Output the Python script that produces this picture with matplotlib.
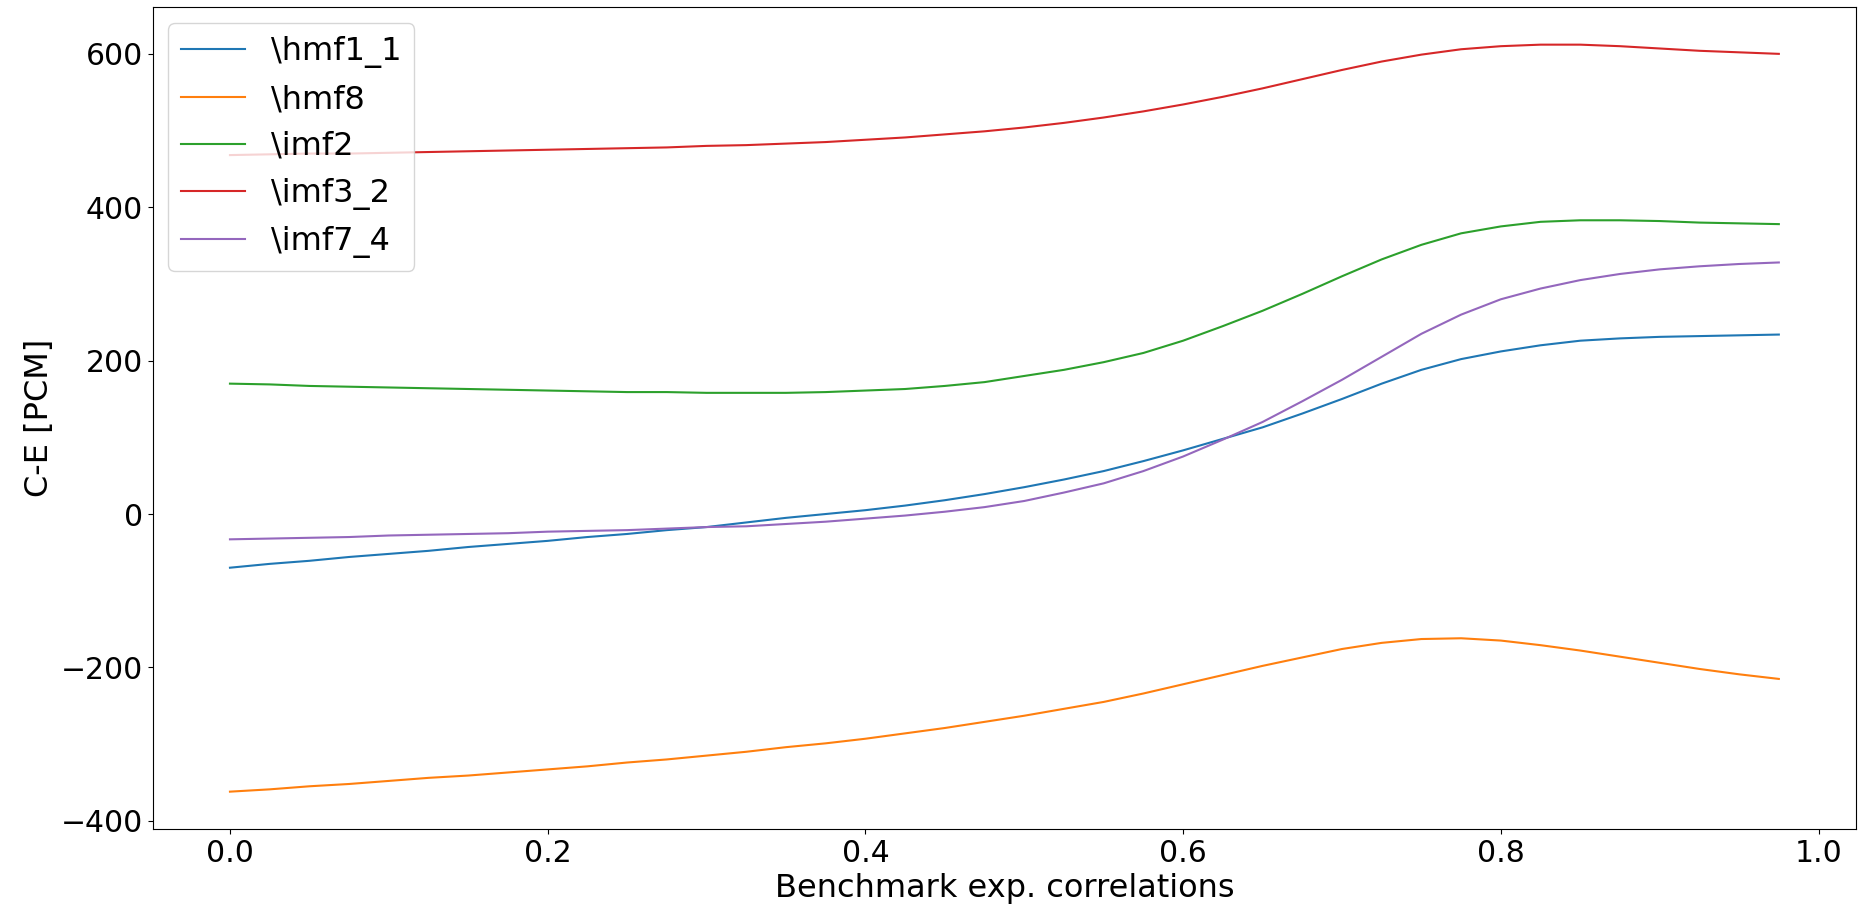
import numpy as np
import matplotlib
matplotlib.use("Agg")
import matplotlib.pyplot as plt

# correlation values used in the benchmark sweep
corr = np.arange(40) * 0.025

hmf1_1 = [-70, -65, -61, -56, -52, -48, -43, -39, -35, -30,
          -26, -21, -17, -11, -5, 0, 5, 11, 18, 26,
          35, 45, 56, 69, 83, 98, 113, 131, 150, 170,
          188, 202, 212, 220, 226, 229, 231, 232, 233, 234]
hmf8 = [-362, -359, -355, -352, -348, -344, -341, -337, -333, -329,
        -324, -320, -315, -310, -304, -299, -293, -286, -279, -271,
        -263, -254, -245, -234, -222, -210, -198, -187, -176, -168,
        -163, -162, -165, -171, -178, -186, -194, -202, -209, -215]
imf2 = [170, 169, 167, 166, 165, 164, 163, 162, 161, 160,
        159, 159, 158, 158, 158, 159, 161, 163, 167, 172,
        180, 188, 198, 210, 226, 245, 265, 287, 310, 332,
        351, 366, 375, 381, 383, 383, 382, 380, 379, 378]
imf3_2 = [468, 469, 470, 470, 471, 472, 473, 474, 475, 476,
          477, 478, 480, 481, 483, 485, 488, 491, 495, 499,
          504, 510, 517, 525, 534, 544, 555, 567, 579, 590,
          599, 606, 610, 612, 612, 610, 607, 604, 602, 600]
imf7_4 = [-33, -32, -31, -30, -28, -27, -26, -25, -23, -22,
          -21, -19, -17, -16, -13, -10, -6, -2, 3, 9,
          17, 28, 40, 56, 75, 97, 120, 147, 175, 205,
          235, 260, 280, 294, 305, 313, 319, 323, 326, 328]

labels = [r"\hmf1_1", r"\hmf8", r"\imf2", r"\imf3_2", r"\imf7_4"]
series = [hmf1_1, hmf8, imf2, imf3_2, imf7_4]

fig = plt.figure(figsize=(18.6, 9.13), dpi=100)
ax = fig.add_subplot(111)
fig.subplots_adjust(left=0.082, right=0.998, top=0.992, bottom=0.092)

for lab, vals in zip(labels, series):
    ax.plot(corr, vals, label=lab, linewidth=1.5)

ax.set_xlabel('Benchmark exp. correlations', fontsize=23)
ax.set_ylabel('C-E [PCM]', fontsize=23)
ax.tick_params(labelsize=21.5)
ax.legend(loc='upper left', fontsize=23)

fig.savefig('out.png', dpi=100)
